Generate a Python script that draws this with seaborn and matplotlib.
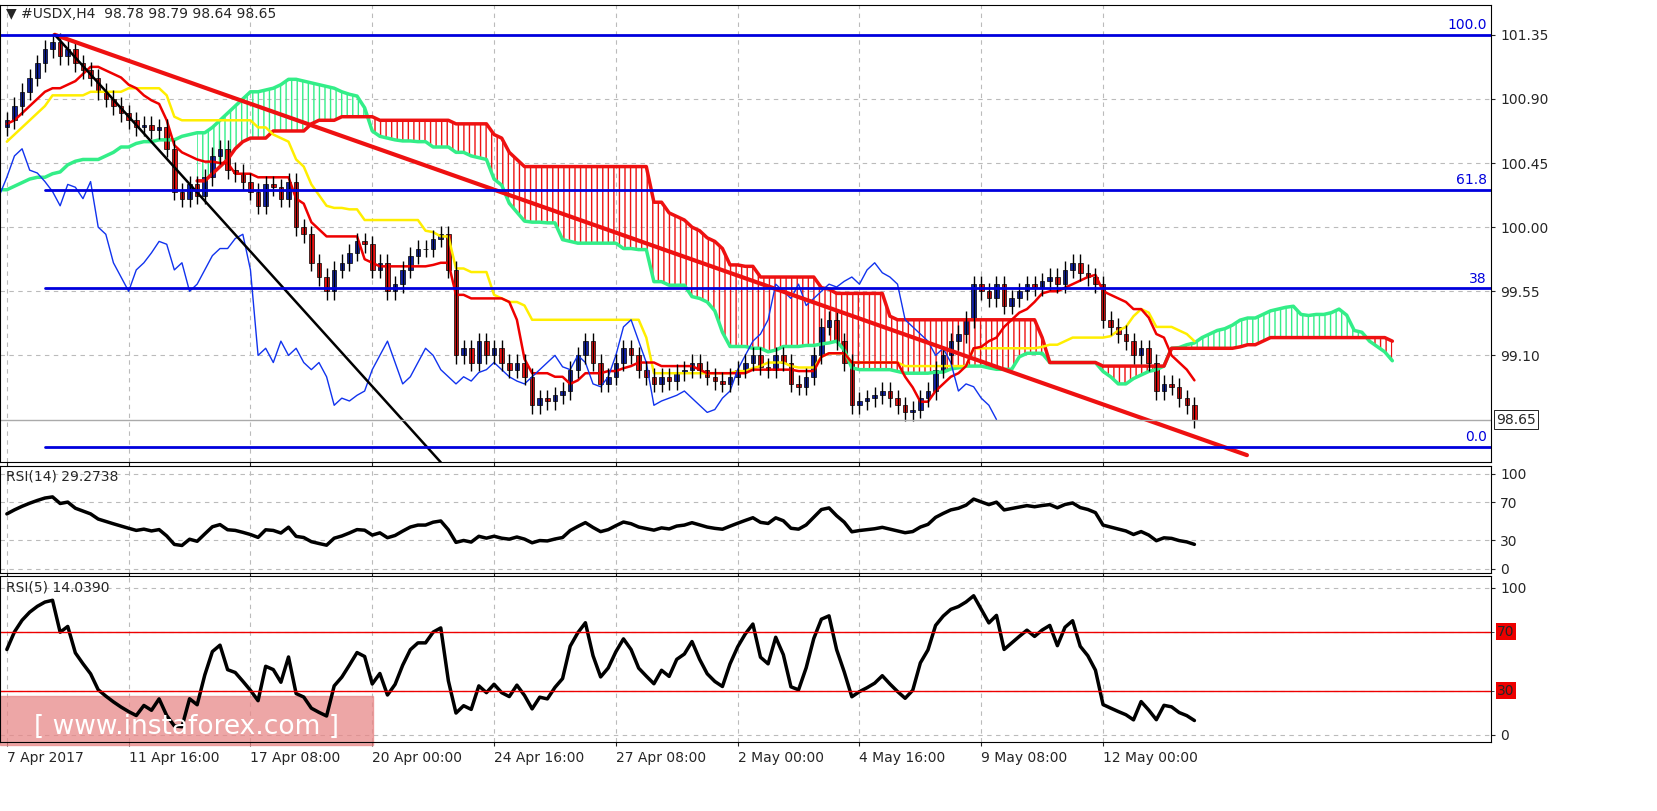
import numpy as np, pandas as pd, matplotlib
matplotlib.use("Agg")
import matplotlib.pyplot as plt
import seaborn as sns

pre_close = [99.85,99.9,99.95,99.9,100.0,100.05,100.1,100.0,99.95,100.05,100.15,100.2,100.1,100.05,100.15,100.25,
             100.3,100.2,100.25,100.35,100.4,100.3,100.25,100.35,100.45,100.5,100.4,100.45,100.55,100.6,100.5,100.45,
             100.55,100.6,100.7,100.65,100.55,100.6,100.7,100.75,100.65,100.6,100.7,100.8,100.75,100.7,100.65,100.75,
             100.8,100.7,100.65,100.7]
close = [100.75,100.85,100.95,101.05,101.15,101.25,101.30,101.20,101.25,101.15,
         101.10,101.05,100.95,100.90,100.85,100.80,100.75,100.70,100.72,100.68,
         100.70,100.55,100.25,100.20,100.30,100.22,100.35,100.50,100.55,100.40,
         100.38,100.32,100.25,100.15,100.30,100.28,100.20,100.32,100.00,99.95,
         99.75,99.65,99.55,99.70,99.75,99.82,99.90,99.88,99.70,99.75,
         99.55,99.60,99.70,99.80,99.85,99.85,99.92,99.95,99.70,99.10,
         99.15,99.05,99.20,99.10,99.15,99.05,99.00,99.05,98.95,98.75,
         98.80,98.78,98.82,98.85,99.00,99.10,99.20,99.05,98.90,98.95,
         99.05,99.15,99.10,99.00,98.95,98.90,98.95,98.92,98.98,99.00,
         99.05,99.00,98.95,98.92,98.90,98.95,99.00,99.05,99.10,99.02,
         99.00,99.10,99.05,98.90,98.88,98.95,99.10,99.30,99.35,99.20,
         99.05,98.75,98.78,98.80,98.82,98.85,98.80,98.75,98.70,98.72,
         98.80,98.85,99.00,99.10,99.20,99.25,99.35,99.60,99.55,99.50,
         99.60,99.45,99.50,99.55,99.60,99.58,99.62,99.65,99.60,99.70,
         99.75,99.68,99.65,99.60,99.35,99.30,99.25,99.20,99.10,99.15,
         99.05,98.85,98.90,98.88,98.80,98.75,98.65]
date_labels = ["7 Apr 2017","11 Apr 16:00","17 Apr 08:00","20 Apr 00:00","24 Apr 16:00",
               "27 Apr 08:00","2 May 00:00","4 May 16:00","9 May 08:00","12 May 00:00"]
fib_levels = [101.35, 100.26, 99.57, 98.46]
fib_names = ["100.0", "61.8", "38", "0.0"]
price_ticks = [101.35, 100.90, 100.45, 100.00, 99.55, 99.10]

allc = np.array(pre_close + close)
P = len(pre_close)
opn = np.r_[allc[0], allc[:-1]]
hi = np.maximum(opn, allc) + 0.06
lo = np.minimum(opn, allc) - 0.06
s_hi, s_lo = pd.Series(hi), pd.Series(lo)
tenkan = (s_hi.rolling(9).max() + s_lo.rolling(9).min()) / 2
kijun = (s_hi.rolling(26).max() + s_lo.rolling(26).min()) / 2
spanA = ((tenkan + kijun) / 2).values
spanB = ((s_hi.rolling(52).max() + s_lo.rolling(52).min()) / 2).values
idx = np.arange(len(allc)) - P
fut = idx + 26

def rsi(c, n):
    d = np.diff(c, prepend=c[0])
    up = pd.Series(np.clip(d, 0, None)).ewm(alpha=1/n, adjust=False).mean()
    dn = pd.Series(np.clip(-d, 0, None)).ewm(alpha=1/n, adjust=False).mean()
    return (100 - 100 / (1 + up / dn.replace(0, 1e-9))).values
r14 = rsi(allc, 14)[P:]
r5 = rsi(allc, 5)[P:]

sns.set_style("white")
plt.rcParams['font.family'] = ['DejaVu Sans']
fig = plt.figure(figsize=(16.57, 8.11), dpi=100)
W = 0.9
ax = fig.add_axes([0.0, 0.43, W, 0.564])
a2 = fig.add_axes([0.0, 0.293, W, 0.132], sharex=ax)
a3 = fig.add_axes([0.0, 0.085, W, 0.205], sharex=ax)

m = fut >= -1
xa, A, B = fut[m], spanA[m], spanB[m]
ax.fill_between(xa, A, B, where=A >= B, interpolate=True, facecolor='none', edgecolor='#33ee88', hatch='|||', linewidth=0)
ax.fill_between(xa, A, B, where=A < B, interpolate=True, facecolor='none', edgecolor='#ee1111', hatch='|||', linewidth=0)
sns.lineplot(x=xa, y=A, ax=ax, color='#33ee88', lw=2.5)
sns.lineplot(x=xa, y=B, ax=ax, color='#ee1111', lw=2.5)
sns.lineplot(x=idx[P:], y=kijun.values[P:], ax=ax, color='#ffee00', lw=1.8)
sns.lineplot(x=idx[P:], y=tenkan.values[P:], ax=ax, color='#ee0000', lw=1.8)
sns.lineplot(x=idx[P:] - 26, y=allc[P:], ax=ax, color='#1133ee', lw=1)

ci = idx[P:]
o, c, h, l = opn[P:], allc[P:], hi[P:], lo[P:]
ax.vlines(ci, l, h, color='black', lw=1)
up = c >= o
ax.bar(ci[up], (c - o)[up], bottom=o[up], width=0.6, color='#1122aa', edgecolor='black', lw=0.5)
ax.bar(ci[~up], (c - o)[~up], bottom=o[~up], width=0.6, color='#ee1111', edgecolor='black', lw=0.5)

ax.plot([6.3, 162.9], [101.35, 98.40], color='#ee1111', lw=3)
ax.plot([6.3, 57], [101.35, 98.35], color='black', lw=1.8)
for i, (lv, nm) in enumerate(zip(fib_levels, fib_names)):
    ax.axhline(lv, xmin=(0 if i == 0 else 0.03), color='#0000dd', lw=2)
    ax.text(0.997, lv + 0.02, nm, transform=ax.get_yaxis_transform(), ha='right', va='bottom', color='#0000dd', fontsize=10)
ax.axhline(98.65, color='#aaaaaa', lw=1)
ax.set_ylim(98.35, 101.56)
ax.set_xlim(-0.9, 195)
ax.set_yticks(price_ticks)
ax.text(1.003, 98.65, "98.65", transform=ax.get_yaxis_transform(), va='center', fontsize=10,
        bbox=dict(fc='white', ec='black', lw=0.6, pad=1.5))
ax.text(0.004, 0.995, "▼ #USDX,H4  98.78 98.79 98.64 98.65", transform=ax.transAxes, va='top', fontsize=10)

sns.lineplot(x=ci, y=r14, ax=a2, color='black', lw=2.5)
a2.set_ylim(-5, 108); a2.set_yticks([0, 30, 70, 100])
a2.text(0.004, 0.97, "RSI(14) 29.2738", transform=a2.transAxes, va='top', fontsize=10)
sns.lineplot(x=ci, y=r5, ax=a3, color='black', lw=2.5)
for lv in (70, 30):
    a3.axhline(lv, color='#ee0000', lw=1)
    a3.text(1.004, lv, str(lv), transform=a3.get_yaxis_transform(), va='center', fontsize=10,
            bbox=dict(fc='#ee0000', ec='none', pad=1))
a3.set_ylim(-5, 108); a3.set_yticks([0, 100])
a3.text(0.004, 0.97, "RSI(5) 14.0390", transform=a3.transAxes, va='top', fontsize=10)
a3.set_xticks(np.arange(10) * 16)
a3.set_xticklabels(date_labels, ha='left', fontsize=10)
a3.add_patch(plt.Rectangle((0.0, -0.02), 0.25, 0.3, transform=a3.transAxes, color='#e88888', alpha=0.75, clip_on=False))
a3.text(0.125, 0.05, "[ www.instaforex.com ]", transform=a3.transAxes, ha='center', fontsize=19, color='white')

for a in (ax, a2, a3):
    a.grid(True, ls=(0, (4, 4)), color='#bbbbbb', lw=0.8)
    a.yaxis.tick_right()
    a.tick_params(labelsize=10, length=3, direction='out', right=True, bottom=True)
    for s in a.spines.values():
        s.set_color('black'); s.set_linewidth(0.8)
a3.set_yticks([30, 70], minor=True)
a3.grid(True, which='minor', axis='y', ls=(0, (4, 4)), color='#bbbbbb', lw=0.8)
plt.setp(ax.get_xticklabels(), visible=False)
plt.setp(a2.get_xticklabels(), visible=False)
fig.savefig("out.png", dpi=100)
